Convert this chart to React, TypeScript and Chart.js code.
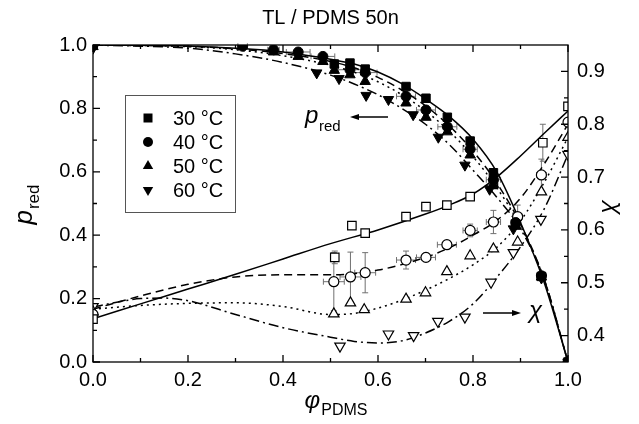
import React, { useEffect, useRef } from 'react';
import { Chart, registerables } from 'chart.js';
Chart.register(...registerables);

const FONT = "'Liberation Sans', Arial, sans-serif";

// Axis ticks
const X_TICKS = [0, 0.2, 0.4, 0.6, 0.8, 1.0];
const X_MINOR = [0.1, 0.3, 0.5, 0.7, 0.9];
const P_TICKS = [0, 0.2, 0.4, 0.6, 0.8, 1.0];
const P_MINOR = [0.1, 0.3, 0.5, 0.7, 0.9];
const CHI_TICKS = [0.4, 0.5, 0.6, 0.7, 0.8, 0.9];
const CHI_MINOR = [0.45, 0.55, 0.65, 0.75, 0.85];

const TEMPS = ['30 °C', '40 °C', '50 °C', '60 °C'];
const TITLE = 'TL / PDMS 50n';

// p_red data (left axis, filled markers)
const PHI_P30 = [0, 0.508, 0.541, 0.573, 0.659, 0.701, 0.746, 0.794, 0.843, 0.89, 0.944, 1.0];
const P30 = [1.0, 0.94, 0.943, 0.924, 0.869, 0.832, 0.772, 0.697, 0.597, 0.435, 0.27, 0.0];
const PHI_P40 = [0, 0.315, 0.38, 0.432, 0.484, 0.541, 0.573, 0.659, 0.701, 0.746, 0.794, 0.843, 0.89, 0.944, 1.0];
const P40 = [1.0, 0.996, 0.985, 0.978, 0.964, 0.922, 0.913, 0.838, 0.795, 0.742, 0.671, 0.575, 0.44, 0.272, 0.0];
const P40_XERR = [0, 0.01, 0.012, 0.025, 0.025, 0.025, 0.025, 0.02, 0.02, 0.02, 0.015, 0.015, 0.01, 0.01, 0];
const PHI_P50 = [0, 0.38, 0.432, 0.484, 0.508, 0.541, 0.573, 0.659, 0.701, 0.746, 0.794, 0.843, 0.89, 0.944, 1.0];
const P50 = [0.995, 0.978, 0.964, 0.948, 0.92, 0.906, 0.885, 0.817, 0.772, 0.726, 0.653, 0.56, 0.428, 0.268, 0.0];
const PHI_P60 = [0, 0.471, 0.518, 0.575, 0.622, 0.674, 0.727, 0.783, 0.835, 0.885, 0.944, 1.0];
const P60 = [0.99, 0.912, 0.894, 0.841, 0.828, 0.78, 0.709, 0.621, 0.545, 0.42, 0.265, 0.0];

// p_red fit curves
const PHI_PC = [0, 0.2, 0.3, 0.4, 0.5, 0.55, 0.6, 0.65, 0.7, 0.75, 0.8, 0.85, 0.9, 0.95, 1.0];
const PC30 = [1.0, 0.997, 0.99, 0.978, 0.955, 0.94, 0.915, 0.878, 0.83, 0.775, 0.703, 0.6, 0.44, 0.25, 0.0];
const PC40 = [1.0, 0.996, 0.988, 0.973, 0.948, 0.928, 0.898, 0.858, 0.808, 0.745, 0.665, 0.565, 0.435, 0.26, 0.0];
const PC50 = [1.0, 0.995, 0.985, 0.966, 0.936, 0.914, 0.884, 0.843, 0.792, 0.728, 0.648, 0.55, 0.428, 0.26, 0.0];
const PC60 = [1.0, 0.99, 0.972, 0.945, 0.905, 0.877, 0.843, 0.8, 0.75, 0.686, 0.605, 0.52, 0.42, 0.26, 0.0];

// chi data (right axis, open markers)
const PHI_C30 = [0, 0.509, 0.545, 0.573, 0.659, 0.701, 0.745, 0.794, 0.843, 0.947, 1.0];
const CHI30 = [0.431, 0.548, 0.608, 0.594, 0.625, 0.644, 0.647, 0.663, 0.686, 0.765, 0.834];
const CHI30_YERR = [0, 0.012, 0, 0, 0, 0, 0, 0, 0, 0.035, 0];
const PHI_C40 = [0, 0.507, 0.542, 0.573, 0.659, 0.701, 0.745, 0.794, 0.843, 0.894, 0.944, 1.0];
const CHI40 = [0.44, 0.502, 0.511, 0.519, 0.543, 0.548, 0.572, 0.599, 0.615, 0.625, 0.704, 0.804];
const CHI40_YERR = [0, 0.055, 0.047, 0.038, 0.017, 0.008, 0.006, 0.012, 0.022, 0.022, 0.03, 0];
const CHI40_XERR = [0, 0.022, 0.022, 0.022, 0.02, 0.02, 0.02, 0.015, 0.015, 0.01, 0.01, 0];
const PHI_C50 = [0, 0.507, 0.542, 0.571, 0.659, 0.7, 0.745, 0.794, 0.843, 0.894, 0.944, 1.0];
const CHI50 = [0.445, 0.441, 0.462, 0.449, 0.469, 0.481, 0.521, 0.551, 0.564, 0.577, 0.672, 0.775];
const PHI_C60 = [0, 0.52, 0.622, 0.675, 0.726, 0.783, 0.838, 0.885, 0.943, 1.0];
const CHI60 = [0.455, 0.38, 0.403, 0.4, 0.427, 0.435, 0.501, 0.557, 0.62, 0.743];

// chi fit curves
const PHI_CC30 = [0, 0.1, 0.2, 0.3, 0.4, 0.5, 0.6, 0.7, 0.75, 0.8, 0.85, 0.9, 0.95, 1.0];
const CC30 = [0.432, 0.46, 0.488, 0.516, 0.545, 0.574, 0.6, 0.63, 0.647, 0.668, 0.7, 0.74, 0.783, 0.825];
const PHI_CC40 = [0, 0.1, 0.2, 0.3, 0.4, 0.5, 0.6, 0.7, 0.75, 0.8, 0.85, 0.9, 0.95, 1.0];
const CC40 = [0.45, 0.475, 0.497, 0.511, 0.515, 0.515, 0.524, 0.548, 0.566, 0.59, 0.618, 0.66, 0.725, 0.8];
const PHI_CC50 = [0, 0.1, 0.2, 0.3, 0.4, 0.5, 0.55, 0.6, 0.65, 0.7, 0.75, 0.8, 0.85, 0.9, 0.95, 1.0];
const CC50 = [0.45, 0.457, 0.461, 0.462, 0.455, 0.44, 0.442, 0.452, 0.467, 0.486, 0.508, 0.534, 0.567, 0.617, 0.69, 0.775];
const PHI_CC60 = [0, 0.05, 0.1, 0.15, 0.2, 0.3, 0.4, 0.5, 0.55, 0.6, 0.65, 0.7, 0.75, 0.8, 0.85, 0.9, 0.95, 1.0];
const CC60 = [0.454, 0.463, 0.47, 0.471, 0.466, 0.44, 0.415, 0.397, 0.389, 0.386, 0.39, 0.405, 0.427, 0.46, 0.51, 0.568, 0.64, 0.743];

const pts = (xs: number[], ys: number[]) => xs.map((x, i) => ({ x, y: ys[i] }));

const DASHES = [[], [8, 5], [2, 4], [10, 4, 2, 4]];

function curve(xs: number[], ys: number[], axis: string, k: number) {
  return {
    type: 'line',
    data: pts(xs, ys),
    yAxisID: axis,
    showLine: true,
    borderColor: '#000',
    borderWidth: 1.5,
    borderDash: DASHES[k],
    pointRadius: 0,
    fill: false,
    cubicInterpolationMode: 'monotone',
    order: 2,
  };
}

const STYLES: any[] = [
  { pointStyle: 'rect', pointRadius: 6, rotation: 0 },
  { pointStyle: 'circle', pointRadius: 5, rotation: 0 },
  { pointStyle: 'triangle', pointRadius: 6, rotation: 0 },
  { pointStyle: 'triangle', pointRadius: 6, rotation: 180 },
];

function markers(xs: number[], ys: number[], axis: string, k: number, open: boolean, extra: any = {}) {
  return {
    type: 'scatter',
    data: pts(xs, ys),
    yAxisID: axis,
    showLine: false,
    pointStyle: STYLES[k].pointStyle,
    pointRadius: STYLES[k].pointRadius,
    rotation: STYLES[k].rotation,
    pointBackgroundColor: open ? '#fff' : '#000',
    pointBorderColor: '#000',
    pointBorderWidth: open ? 1.2 : 1,
    order: 1,
    ...extra,
  };
}

function drawShape(ctx: CanvasRenderingContext2D, k: number, x: number, y: number) {
  ctx.beginPath();
  if (k === 0) {
    ctx.rect(x - 4.5, y - 4.5, 9, 9);
  } else if (k === 1) {
    ctx.arc(x, y, 5, 0, Math.PI * 2);
  } else if (k === 2) {
    ctx.moveTo(x, y - 6);
    ctx.lineTo(x + 5.2, y + 3);
    ctx.lineTo(x - 5.2, y + 3);
    ctx.closePath();
  } else {
    ctx.moveTo(x, y + 6);
    ctx.lineTo(x + 5.2, y - 3);
    ctx.lineTo(x - 5.2, y - 3);
    ctx.closePath();
  }
  ctx.fill();
}

function arrow(ctx: CanvasRenderingContext2D, x1: number, x2: number, y: number) {
  const dir = x2 > x1 ? 1 : -1;
  ctx.beginPath();
  ctx.moveTo(x1, y);
  ctx.lineTo(x2 - dir * 6, y);
  ctx.lineWidth = 1.5;
  ctx.stroke();
  ctx.beginPath();
  ctx.moveTo(x2, y);
  ctx.lineTo(x2 - dir * 9, y - 3);
  ctx.lineTo(x2 - dir * 9, y + 3);
  ctx.closePath();
  ctx.fill();
}

const deco = {
  id: 'deco',
  beforeDatasetsDraw(chart: any) {
    const ctx = chart.ctx as CanvasRenderingContext2D;
    const xs = chart.scales.x;
    ctx.save();
    ctx.strokeStyle = '#707070';
    ctx.lineWidth = 1;
    chart.data.datasets.forEach((ds: any) => {
      if (!ds.errX && !ds.errY) return;
      const ys = chart.scales[ds.yAxisID];
      ds.data.forEach((p: any, j: number) => {
        const px = xs.getPixelForValue(p.x);
        const py = ys.getPixelForValue(p.y);
        const ex = ds.errX ? ds.errX[j] : 0;
        const ey = ds.errY ? ds.errY[j] : 0;
        ctx.beginPath();
        if (ex) {
          const a = xs.getPixelForValue(p.x - ex);
          const b = xs.getPixelForValue(p.x + ex);
          ctx.moveTo(a, py); ctx.lineTo(b, py);
          ctx.moveTo(a, py - 3); ctx.lineTo(a, py + 3);
          ctx.moveTo(b, py - 3); ctx.lineTo(b, py + 3);
        }
        if (ey) {
          const a = ys.getPixelForValue(p.y - ey);
          const b = ys.getPixelForValue(p.y + ey);
          ctx.moveTo(px, a); ctx.lineTo(px, b);
          ctx.moveTo(px - 3, a); ctx.lineTo(px + 3, a);
          ctx.moveTo(px - 3, b); ctx.lineTo(px + 3, b);
        }
        ctx.stroke();
      });
    });
    ctx.restore();
  },
  afterDraw(chart: any) {
    const ctx = chart.ctx as CanvasRenderingContext2D;
    const { left, right, top, bottom } = chart.chartArea;
    const xs = chart.scales.x, yl = chart.scales.y, yr = chart.scales.y2;
    ctx.save();
    ctx.strokeStyle = '#000';
    ctx.fillStyle = '#000';
    ctx.lineWidth = 1.3;
    ctx.strokeRect(left, top, right - left, bottom - top);
    ctx.beginPath();
    const tick = (vals: number[], len: number) => {
      vals.forEach((v) => {
        const x = xs.getPixelForValue(v);
        ctx.moveTo(x, bottom); ctx.lineTo(x, bottom - len);
        ctx.moveTo(x, top); ctx.lineTo(x, top + len);
      });
    };
    tick(X_TICKS, 7); tick(X_MINOR, 4);
    P_TICKS.forEach((v) => { const y = yl.getPixelForValue(v); ctx.moveTo(left, y); ctx.lineTo(left + 7, y); });
    P_MINOR.forEach((v) => { const y = yl.getPixelForValue(v); ctx.moveTo(left, y); ctx.lineTo(left + 4, y); });
    CHI_TICKS.forEach((v) => { const y = yr.getPixelForValue(v); ctx.moveTo(right, y); ctx.lineTo(right - 7, y); });
    CHI_MINOR.forEach((v) => { const y = yr.getPixelForValue(v); ctx.moveTo(right, y); ctx.lineTo(right - 4, y); });
    ctx.stroke();

    // title
    ctx.textAlign = 'center';
    ctx.textBaseline = 'middle';
    ctx.font = `20px ${FONT}`;
    ctx.fillText(TITLE, (left + right) / 2, 18);

    // x title
    ctx.textAlign = 'left';
    ctx.textBaseline = 'alphabetic';
    ctx.font = `italic 24px ${FONT}`;
    const wPhi = ctx.measureText('φ').width;
    ctx.font = `16px ${FONT}`;
    const wSub = ctx.measureText('PDMS').width;
    let sx = (left + right) / 2 + 5 - (wPhi + wSub) / 2;
    ctx.font = `italic 24px ${FONT}`;
    ctx.fillText('φ', sx, 408);
    ctx.font = `16px ${FONT}`;
    ctx.fillText('PDMS', sx + wPhi + 1, 415);

    // left title (rotated)
    ctx.save();
    ctx.translate(32, 205);
    ctx.rotate(-Math.PI / 2);
    ctx.font = `italic 26px ${FONT}`;
    const wp = ctx.measureText('p').width;
    ctx.font = `17px ${FONT}`;
    const wr = ctx.measureText('red').width;
    const lx = -(wp + wr) / 2;
    ctx.font = `italic 26px ${FONT}`;
    ctx.fillText('p', lx, 0);
    ctx.font = `17px ${FONT}`;
    ctx.fillText('red', lx + wp + 1, 7);
    ctx.restore();

    // right title
    ctx.save();
    ctx.translate(614, 208);
    ctx.rotate(Math.PI / 2);
    ctx.font = `italic 24px ${FONT}`;
    ctx.textAlign = 'center';
    ctx.textBaseline = 'middle';
    ctx.fillText('χ', 0, 0);
    ctx.restore();

    // legend
    ctx.strokeStyle = '#555';
    ctx.lineWidth = 1;
    ctx.strokeRect(125.5, 95.5, 110, 117);
    ctx.font = `20px ${FONT}`;
    ctx.textBaseline = 'middle';
    ctx.textAlign = 'left';
    TEMPS.forEach((t, i) => {
      const y = 118 + i * 24;
      drawShape(ctx, i, 148, y);
      ctx.fillText(t, 173, y + 1);
    });

    // annotations
    ctx.strokeStyle = '#000';
    ctx.font = `italic 24px ${FONT}`;
    ctx.textBaseline = 'alphabetic';
    ctx.fillText('p', 305, 123);
    ctx.font = `15px ${FONT}`;
    ctx.fillText('red', 319, 131);
    arrow(ctx, 388, 350, 117);
    arrow(ctx, 483, 521, 313);
    ctx.font = `italic 24px ${FONT}`;
    ctx.fillText('χ', 529, 318);
    ctx.restore();
  },
};

function axisCommon(extra: any) {
  return {
    type: 'linear',
    grid: { display: false, drawTicks: false },
    border: { display: false },
    ticks: {
      color: '#000',
      font: { size: 20, family: FONT },
      autoSkip: false,
      maxRotation: 0,
      callback: (v: number) => v.toFixed(1),
      ...extra.ticks,
    },
    ...extra.rest,
  };
}

export default function App() {
  const ref = useRef<HTMLCanvasElement>(null);
  useEffect(() => {
    document.body.style.margin = '0';
    const datasets: any[] = [
      curve(PHI_PC, PC30, 'y', 0),
      curve(PHI_PC, PC40, 'y', 1),
      curve(PHI_PC, PC50, 'y', 2),
      curve(PHI_PC, PC60, 'y', 3),
      curve(PHI_CC30, CC30, 'y2', 0),
      curve(PHI_CC40, CC40, 'y2', 1),
      curve(PHI_CC50, CC50, 'y2', 2),
      curve(PHI_CC60, CC60, 'y2', 3),
      markers(PHI_P30, P30, 'y', 0, false),
      markers(PHI_P40, P40, 'y', 1, false, { errX: P40_XERR }),
      markers(PHI_P50, P50, 'y', 2, false),
      markers(PHI_P60, P60, 'y', 3, false),
      markers(PHI_C30, CHI30, 'y2', 0, true, { errY: CHI30_YERR }),
      markers(PHI_C40, CHI40, 'y2', 1, true, { errX: CHI40_XERR, errY: CHI40_YERR }),
      markers(PHI_C50, CHI50, 'y2', 2, true),
      markers(PHI_C60, CHI60, 'y2', 3, true),
    ];
    const chart = new Chart(ref.current as HTMLCanvasElement, {
      type: 'scatter',
      data: { datasets },
      options: {
        animation: false,
        responsive: true,
        maintainAspectRatio: false,
        events: [],
        layout: { padding: { top: 45, left: 0, right: 0, bottom: 0 } },
        plugins: { legend: { display: false }, tooltip: { enabled: false }, title: { display: false } },
        scales: {
          x: axisCommon({
            ticks: { padding: 6 },
            rest: {
              position: 'bottom', min: 0, max: 1,
              afterBuildTicks: (s: any) => { s.ticks = X_TICKS.map((v) => ({ value: v })); },
              afterFit: (s: any) => { s.height = 62; },
            },
          }),
          y: axisCommon({
            ticks: { padding: 6 },
            rest: {
              position: 'left', min: 0, max: 1,
              afterBuildTicks: (s: any) => { s.ticks = P_TICKS.map((v) => ({ value: v })); },
              afterFit: (s: any) => { s.width = 93; },
            },
          }),
          y2: axisCommon({
            ticks: { padding: 9 },
            rest: {
              position: 'right', min: 0.35, max: 0.95,
              afterBuildTicks: (s: any) => { s.ticks = CHI_TICKS.map((v) => ({ value: v })); },
              afterFit: (s: any) => { s.width = 71; },
            },
          }),
        },
      } as any,
      plugins: [deco],
    } as any);
    return () => chart.destroy();
  }, []);
  return (
    <div style={{ width: 639, height: 424, position: 'relative' }}>
      <canvas ref={ref} />
    </div>
  );
}
